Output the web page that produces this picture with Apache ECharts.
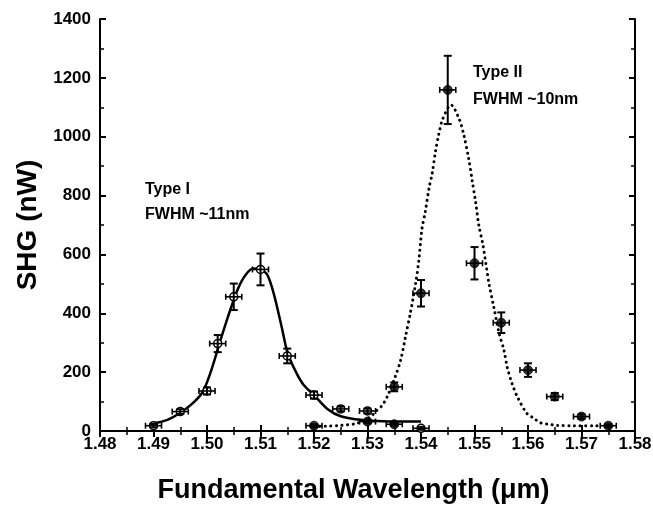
<!DOCTYPE html>
<html>
<head>
<meta charset="utf-8">
<script src="https://cdn.jsdelivr.net/npm/echarts@6/dist/echarts.min.js"></script>
<style>
html,body{margin:0;padding:0;background:#fff;}
#chart{width:653px;height:506px;}
</style>
</head>
<body>
<div id="chart"></div>
<script>
// ---- data ----
const typeIX   = [1.490, 1.495, 1.500, 1.502, 1.505, 1.510, 1.515, 1.520, 1.525, 1.530, 1.540];
const typeIY   = [18, 66, 136, 297, 456, 549, 255, 122, 75, 68, 9];
const typeIErr = [6, 8, 12, 29, 45, 54, 25, 12, 8, 8, 5];

const typeIIX   = [1.520, 1.530, 1.535, 1.535, 1.540, 1.545, 1.550, 1.555, 1.560, 1.565, 1.570, 1.575];
const typeIIY   = [18, 32, 23, 150, 468, 1159, 570, 368, 207, 117, 49, 18];
const typeIIErr = [5, 6, 5, 15, 45, 116, 55, 35, 23, 12, 8, 5];

const xErr = 0.0015;

const fitIX = [1.4900, 1.4926, 1.4950, 1.4972, 1.4991, 1.5003, 1.5013, 1.5022, 1.5035, 1.5047, 1.5059, 1.5072, 1.5086, 1.5100, 1.5113, 1.5125, 1.5140, 1.5150, 1.5165, 1.5180, 1.5200, 1.5225, 1.5250, 1.5290, 1.5330, 1.5400];
const fitIY = [26, 38, 62, 92, 130, 180, 235, 290, 365, 430, 488, 530, 552, 548, 530, 465, 350, 270, 205, 158, 122, 75, 50, 37, 33, 32];

const fitIIX = [1.5200, 1.5228, 1.5250, 1.5280, 1.5306, 1.5315, 1.5327, 1.5337, 1.5352, 1.5362, 1.5371, 1.5380, 1.5390, 1.5396, 1.5402, 1.5408, 1.5415, 1.5421, 1.5427, 1.5433, 1.5440, 1.5456, 1.5471, 1.5480, 1.5489, 1.5496, 1.5502, 1.5508, 1.5516, 1.5527, 1.5536, 1.5546, 1.5555, 1.5561, 1.5570, 1.5580, 1.5597, 1.5611, 1.5623, 1.5639, 1.5655, 1.5686, 1.5730];
const fitIIY = [15, 17, 19, 26, 49, 66, 86, 117, 185, 241, 320, 400, 502, 580, 689, 745, 825, 876, 949, 1006, 1057, 1108, 1062, 1006, 927, 847, 779, 700, 630, 502, 422, 332, 275, 218, 162, 117, 62, 43, 28, 23, 19, 18, 18];

const xTickLabels = ['1.48','1.49','1.50','1.51','1.52','1.53','1.54','1.55','1.56','1.57','1.58'];
const yTickLabels = ['0','200','400','600','800','1000','1200','1400'];

const labels = {
  typeI: ['Type I', 'FWHM ~11nm'],
  typeII: ['Type II', 'FWHM ~10nm']
};

// ---- chart ----
const FONT = 'Liberation Sans, Arial, Helvetica, sans-serif';
const chart = echarts.init(document.getElementById('chart'), null, {renderer: 'canvas'});

function errRender(params, api) {
  const x = api.value(0), y = api.value(1), e = api.value(2);
  const top = api.coord([x, y + e]);
  const bot = api.coord([x, y - e]);
  const lft = api.coord([x - xErr, y]);
  const rgt = api.coord([x + xErr, y]);
  const cw = 4, ch = 3;
  const st = {stroke: '#000', lineWidth: 2};
  const st2 = {stroke: '#000', lineWidth: 1.6};
  return {
    type: 'group',
    children: [
      {type: 'line', shape: {x1: top[0], y1: top[1], x2: bot[0], y2: bot[1]}, style: st},
      {type: 'line', shape: {x1: top[0]-cw, y1: top[1], x2: top[0]+cw, y2: top[1]}, style: st},
      {type: 'line', shape: {x1: bot[0]-cw, y1: bot[1], x2: bot[0]+cw, y2: bot[1]}, style: st},
      {type: 'line', shape: {x1: lft[0], y1: lft[1], x2: rgt[0], y2: rgt[1]}, style: st2},
      {type: 'line', shape: {x1: lft[0], y1: lft[1]-ch, x2: lft[0], y2: lft[1]+ch}, style: st2},
      {type: 'line', shape: {x1: rgt[0], y1: rgt[1]-ch, x2: rgt[0], y2: rgt[1]+ch}, style: st2}
    ]
  };
}

const zip3 = (a, b, c) => a.map((v, i) => [v, b[i], c[i]]);
const zip2 = (a, b) => a.map((v, i) => [v, b[i]]);

const axisCommonX = {
  type: 'value', min: 1.48, max: 1.58, interval: 0.01,
  axisLine: {show: true, lineStyle: {color: '#000', width: 2}},
  axisTick: {show: true, inside: true, length: 6, lineStyle: {color: '#000', width: 2}},
  minorTick: {show: true, splitNumber: 2, length: 4, lineStyle: {color: '#000', width: 1.5}},
  splitLine: {show: false}, minorSplitLine: {show: false}
};
const axisCommonY = {
  type: 'value', min: 0, max: 1400, interval: 200,
  axisLine: {show: true, lineStyle: {color: '#000', width: 2}},
  axisTick: {show: true, inside: true, length: 6, lineStyle: {color: '#000', width: 2}},
  minorTick: {show: true, splitNumber: 2, length: 4, lineStyle: {color: '#000', width: 1.5}},
  splitLine: {show: false}, minorSplitLine: {show: false}
};

chart.setOption({
  animation: false,
  backgroundColor: '#fff',
  grid: {left: 100, right: 18, top: 19, bottom: 75, containLabel: false, outerBoundsMode: 'none'},
  xAxis: [
    Object.assign({}, axisCommonX, {
      position: 'bottom',
      name: 'Fundamental Wavelength (\u03bcm)',
      nameLocation: 'middle', nameGap: 46,
      nameTextStyle: {fontFamily: FONT, fontWeight: 'bold', fontSize: 27, color: '#000', padding: [0, 28, 0, 0]},
      axisLabel: {show: true, margin: 5, fontFamily: FONT, fontWeight: 'bold', fontSize: 17, color: '#000',
        formatter: v => xTickLabels[Math.round((v - 1.48) / 0.01)] || v.toFixed(2)}
    }),
    Object.assign({}, axisCommonX, {position: 'top', axisLabel: {show: false}})
  ],
  yAxis: [
    Object.assign({}, axisCommonY, {
      position: 'left',
      name: 'SHG (nW)',
      nameLocation: 'middle', nameGap: 56,
      nameTextStyle: {fontFamily: FONT, fontWeight: 'bold', fontSize: 28, color: '#000'},
      axisLabel: {show: true, margin: 9, fontFamily: FONT, fontWeight: 'bold', fontSize: 17, color: '#000',
        formatter: v => yTickLabels[Math.round(v / 200)] || String(v)}
    }),
    Object.assign({}, axisCommonY, {position: 'right', axisLabel: {show: false}})
  ],
  series: [
    {
      name: 'Type I fit', type: 'line', data: zip2(fitIX, fitIY),
      showSymbol: false, smooth: 0.3, z: 2,
      lineStyle: {color: '#000', width: 2.5}
    },
    {
      name: 'Type II fit', type: 'line', data: zip2(fitIIX, fitIIY),
      showSymbol: false, smooth: 0.3, z: 2,
      lineStyle: {color: '#000', width: 3, type: [0.1, 5.5], cap: 'round'}
    },
    {
      name: 'Type I err', type: 'custom', renderItem: errRender,
      data: zip3(typeIX, typeIY, typeIErr), z: 5, encode: {x: 0, y: 1}
    },
    {
      name: 'Type II err', type: 'custom', renderItem: errRender,
      data: zip3(typeIIX, typeIIY, typeIIErr), z: 3, encode: {x: 0, y: 1}
    },
    {
      name: 'Type I', type: 'scatter', data: zip2(typeIX, typeIY),
      symbol: 'circle', symbolSize: 8, z: 4,
      itemStyle: {color: '#fff', borderColor: '#000', borderWidth: 1.5, opacity: 1}
    },
    {
      name: 'Type II', type: 'scatter', data: zip2(typeIIX, typeIIY),
      symbol: 'circle', symbolSize: 9, z: 4,
      itemStyle: {color: '#000', borderColor: '#000', borderWidth: 1}
    }
  ],
  graphic: [
    {type: 'text', left: 145, top: 182, style: {text: labels.typeI[0], font: 'bold 16px ' + FONT, fill: '#000'}},
    {type: 'text', left: 145, top: 207, style: {text: labels.typeI[1], font: 'bold 16px ' + FONT, fill: '#000'}},
    {type: 'text', left: 473, top: 65, style: {text: labels.typeII[0], font: 'bold 16px ' + FONT, fill: '#000'}},
    {type: 'text', left: 473, top: 92, style: {text: labels.typeII[1], font: 'bold 16px ' + FONT, fill: '#000'}}
  ]
});
</script>
</body>
</html>
